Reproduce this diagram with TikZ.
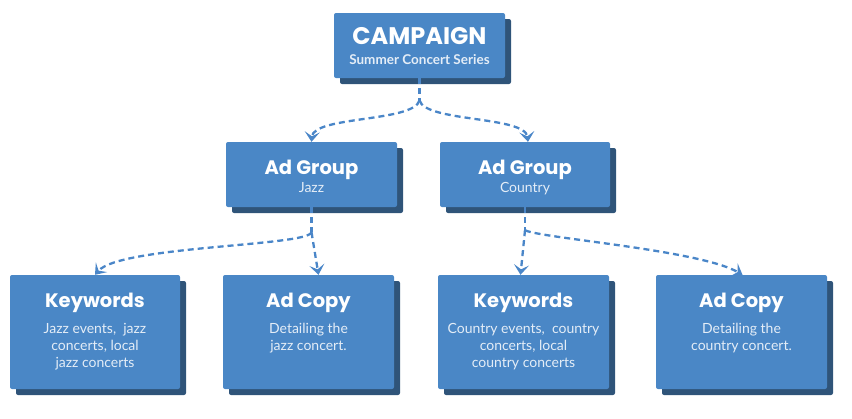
\documentclass[tikz,border=0pt]{standalone}
\usepackage{fontspec}
\setmainfont{Lato}
\newfontfamily\headfont{Poppins}
\usetikzlibrary{shadows,arrows.meta,calc}
\definecolor{boxblue}{HTML}{4A87C6}
\definecolor{shadowblue}{HTML}{2F5479}
\definecolor{linkblue}{HTML}{4A86C8}
\definecolor{subwhite}{HTML}{E4EDF7}
\begin{document}
\begin{tikzpicture}[x=1pt,y=-1pt,
  box/.style={fill=boxblue, rounded corners=2pt, inner sep=0pt,
    minimum width=171pt, minimum height=65pt,
    drop shadow={shadow xshift=6pt, shadow yshift=-6pt, fill=shadowblue, opacity=1}},
  tallbox/.style={box, minimum height=114pt},
  bigtitle/.style={font=\headfont\bfseries\fontsize{24}{24}\selectfont, text=white, anchor=base, inner sep=0pt},
  title/.style={font=\headfont\bfseries\fontsize{19.5}{20}\selectfont, text=white, anchor=base, inner sep=0pt},
  subbold/.style={font=\bfseries\fontsize{13.5}{16}\selectfont, text=subwhite, anchor=base, inner sep=0pt},
  sub/.style={font=\fontsize{14}{16}\selectfont, text=subwhite, anchor=base, inner sep=0pt},
  body/.style={font=\fontsize{14}{17}\selectfont, text=subwhite, anchor=base, inner sep=0pt, align=center},
  conn/.style={draw=linkblue, line width=2.3pt, dash pattern=on 6pt off 4pt,
    -{Stealth[length=10pt,width=15pt,inset=4.5pt]}},
  plain/.style={draw=linkblue, line width=2.3pt, dash pattern=on 6pt off 4pt}
]
\useasboundingbox (0,0) rectangle (852,418);

% boxes
\node[box] (camp) at (419.5,45.5) {};
\node[box] (gj) at (311.5,174.5) {};
\node[box, minimum width=170pt] (gc) at (525,174.5) {};
\node[tallbox, minimum width=170pt] (kj) at (95,332) {};
\node[tallbox] (aj) at (308.5,332) {};
\node[tallbox] (kc) at (523.5,332) {};
\node[tallbox] (ac) at (741.5,332) {};

% texts
\node[bigtitle] (campT) at ($(camp.north)+(0,32)$) {CAMPAIGN};
\node[subbold] (campS) at ($(camp.north)+(0,52)$) {Summer Concert Series};
\node[title] (gjT) at ($(gj.north)+(0,33)$) {Ad Group};
\node[sub] (gjS) at ($(gj.north)+(0,51)$) {Jazz};
\node[title] (gcT) at ($(gc.north)+(0,33)$) {Ad Group};
\node[sub] (gcS) at ($(gc.north)+(0,51)$) {Country};

\node[title] (kjT) at ($(kj.north)+(0,33)$) {Keywords};
\node[body] (kjB) at ($(kj.north)+(0,93)$) {Jazz events,\ \ jazz\\concerts, local\\jazz concerts};
\node[title] (ajT) at ($(aj.north)+(0,33)$) {Ad Copy};
\node[body] (ajB) at ($(aj.north)+(0,76)$) {Detailing the\\jazz concert.};
\node[title] (kcT) at ($(kc.north)+(0,33)$) {Keywords};
\node[body] (kcB) at ($(kc.north)+(0,93)$) {Country events,\ \ country\\concerts, local\\country concerts};
\node[title] (acT) at ($(ac.north)+(0,33)$) {Ad Copy};
\node[body] (acB) at ($(ac.north)+(0,76)$) {Detailing the\\country concert.};

% branch points
\coordinate (cb) at ($(camp.south)+(0,22)$);
\coordinate (jb) at ($(gj.south)+(0,25)$);
\coordinate (kb) at ($(gc.south)+(0,23)$);

% connectors
\draw[plain] (camp.south) -- (cb);
\draw[conn] (cb) .. controls ($(cb)+(-5,22)$) and ($(gj.north)+(2,-26)$) .. (gj.north);
\draw[conn] (cb) .. controls ($(cb)+(5,22)$) and ($(gc.north)+(0,-26)$) .. ($(gc.north)+(3,0)$);

\draw[plain] (gj.south) -- (jb);
\draw[conn] (jb) .. controls ($(jb)+(-3,14)$) and ($(kj.north)+(25,-29)$) .. (kj.north);
\draw[conn] (jb) -- ($(aj.north)+(10,0)$);

\draw[plain] (gc.south) -- (kb);
\draw[conn] (kb) -- ($(kc.north)+(-3,0)$);
\draw[conn] (kb) .. controls ($(kb)+(15,8)$) and ($(ac.north)+(-42,-25)$) .. ($(ac.north)+(1,0)$);
\end{tikzpicture}
\end{document}
